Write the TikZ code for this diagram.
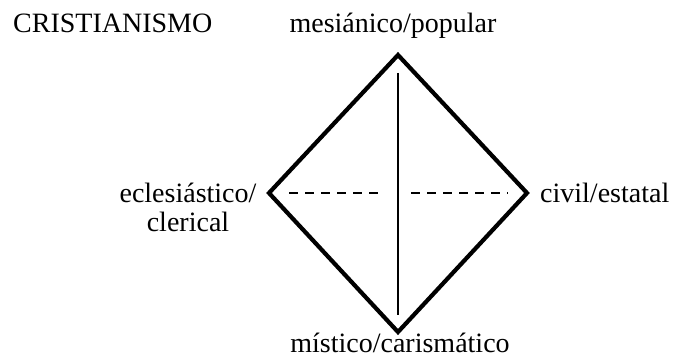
\documentclass[tikz,border=0pt]{standalone}
\usepackage{fontspec}
\setmainfont{Liberation Serif}
\usepackage{tikz}
\usetikzlibrary{positioning}

\begin{document}
\begin{tikzpicture}[x = 1pt, y = -1pt,
  every node/.style = {font = \fontsize{28}{28.5}\selectfont, inner sep = 0pt},
  edge/.style = {line width = 4.2pt, line join = miter},
  axis/.style = {line width = 2.4pt},
  halfaxis/.style = {line width = 2.6pt, dash pattern = on 9pt off 7pt}]
  \useasboundingbox (0, 0) rectangle (673, 358);
  \coordinate (top) at (398, 55);
  \coordinate (right) at (527, 193);
  \coordinate (bottom) at (398, 332);
  \coordinate (left) at (269, 193);
  \coordinate (vtop) at (398, 73);
  \coordinate (vbot) at (398, 315);
  \coordinate (hl1) at (289, 193);
  \coordinate (hl2) at (385, 193);
  \coordinate (hr1) at (411, 193);
  \coordinate (hr2) at (508, 193);
  \node[anchor = base west] at (13, 33) (title) {CRISTIANISMO};
  \node[anchor = base] at (393, 33) (mes) {mesiánico/popular};
  \node[anchor = base, align = center] at (188, 231.5) (ecl) {eclesiástico/\\clerical};
  \node[anchor = base west] at (540, 203) (civ) {civil/estatal};
  \node[anchor = base] at (400, 353) (mis) {místico/carismático};
  \draw[edge] (top) -- (right) -- (bottom) -- (left) -- cycle;
  \draw[axis] (vtop) -- (vbot);
  \draw[halfaxis] (hl1) -- (hl2);
  \draw[halfaxis] (hr1) -- (hr2);
\end{tikzpicture}
\end{document}
